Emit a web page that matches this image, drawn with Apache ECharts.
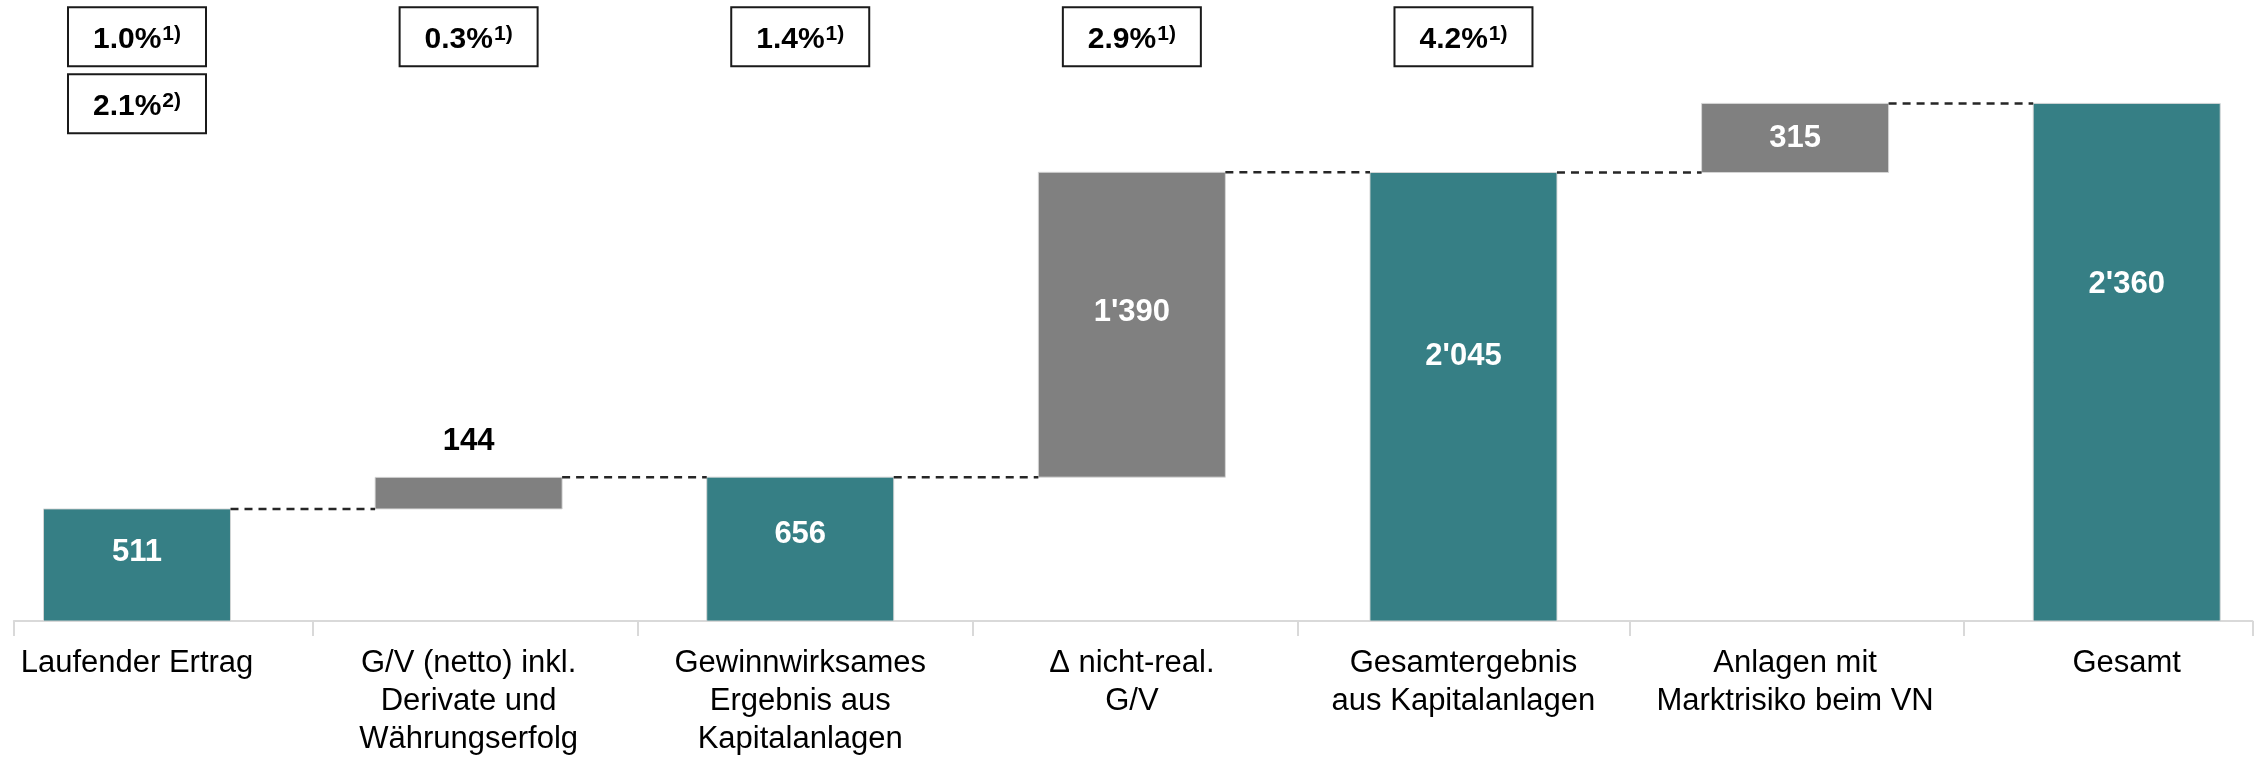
<!DOCTYPE html>
<html>
<head>
<meta charset="utf-8">
<script src="https://cdn.jsdelivr.net/npm/echarts@6/dist/echarts.min.js"></script>
<style>
html,body{margin:0;padding:0;background:#fff;}
#chart{width:2260px;height:758px;}
</style>
</head>
<body>
<div id="chart"></div>
<script>
// ---- data ----
const categories = [
  'Laufender Ertrag',
  'G/V (netto) inkl.\nDerivate und\nWährungserfolg',
  'Gewinnwirksames\nErgebnis aus\nKapitalanlagen',
  'Δ nicht-real.\nG/V',
  'Gesamtergebnis\naus Kapitalanlagen',
  'Anlagen mit\nMarktrisiko beim VN',
  'Gesamt'
];
const values = [511, 144, 656, 1390, 2045, 315, 2360];
const isTotal = [true, false, true, false, true, false, true];
const rates = ['1.0%', '0.3%', '1.4%', '2.9%', '4.2%'];
const rateNotes = ['1)', '1)', '1)', '1)', '1)'];
const rates2 = ['2.1%'];
const rateNotes2 = ['2)'];
// axis category boundaries (tick positions, in category units)
const axisMin = -0.3715, axisMax = 6.379;
const tickValues = [axisMin, 0.53, 1.51, 2.52, 3.5, 4.5, 5.51, axisMax];

// ---- style ----
const TEAL = '#367F85';
const GREY = '#808080';
const FONT = '"Liberation Sans", Arial, Helvetica, sans-serif';
const BAR_W = 187;
const labelAt = [0.39, 0.5, 0.40, 0.46, 0.41, 0.51, 0.35];

// ---- derived waterfall ----
const bases = [], tops = [];
let running = 0;
values.forEach((v, i) => {
  if (isTotal[i]) { bases.push(0); running = v; }
  else { bases.push(running); running += v; }
  tops.push(bases[i] + v);
});
const fmt = v => String(v).replace(/\B(?=(\d{3})+(?!\d))/g, "'");

const barData = values.map((v, i) => [i, bases[i], tops[i], v]);
const connData = [];
for (let i = 0; i < values.length - 1; i++) {
  connData.push([i, isTotal[i] ? values[i] : tops[i]]);
}
const boxData = [];
rates.forEach((r, i) => boxData.push([i, 0, r, rateNotes[i]]));
rates2.forEach((r, i) => boxData.push([i, 1, r, rateNotes2[i]]));

const chart = echarts.init(document.getElementById('chart'), null, { renderer: 'canvas' });
chart.setOption({
  animation: false,
  backgroundColor: '#fff',
  textStyle: { fontFamily: FONT },
  grid: { left: 13.8, right: 7.6, top: 72.7, bottom: 135.3, containLabel: false },
  xAxis: {
    type: 'value',
    min: axisMin, max: axisMax,
    splitLine: { show: false },
    axisLine: { show: true, lineStyle: { color: '#d9d9d9', width: 2 } },
    axisTick: { show: true, length: 15, lineStyle: { color: '#d9d9d9', width: 2 }, customValues: tickValues },
    axisLabel: {
      show: true, margin: 23, color: '#000', fontSize: 31, lineHeight: 38, fontFamily: FONT,
      customValues: categories.map((c, i) => i),
      formatter: v => categories[Math.round(v)] || '',
      align: 'center'
    }
  },
  yAxis: { type: 'value', min: 0, max: 2500, show: false },
  series: [
    {
      type: 'custom', name: 'bars', clip: false,
      renderItem: (params, api) => {
        const i = api.value(0), b = api.value(1), t = api.value(2), v = api.value(3);
        const p0 = api.coord([i, b]);
        const p1 = api.coord([i, t]);
        const outside = v < 200;
        const textStyle = {
          text: fmt(v), fill: outside ? '#000' : '#fff',
          fontSize: 31, fontWeight: 'bold', fontFamily: FONT
        };
        if (!outside) { textStyle.align = 'center'; textStyle.verticalAlign = 'middle'; }
        return {
          type: 'rect',
          shape: { x: p0[0] - BAR_W / 2, y: p1[1], width: BAR_W, height: p0[1] - p1[1] },
          style: { fill: isTotal[i] ? TEAL : GREY, stroke: 'rgba(215,215,215,0.9)', lineWidth: 1 },
          textContent: { style: textStyle },
          textConfig: outside
            ? { position: 'top', distance: 20 }
            : { position: ['50%', (labelAt[i] * 100) + '%'], inside: true }
        };
      },
      data: barData, z: 3
    },
    {
      type: 'custom', name: 'connectors', silent: true, clip: false,
      renderItem: (params, api) => {
        const i = api.value(0), lvl = api.value(1);
        const p1 = api.coord([i, lvl]);
        const p2 = api.coord([i + 1, lvl]);
        return {
          type: 'line',
          shape: { x1: p1[0] + BAR_W / 2, y1: p1[1], x2: p2[0] - BAR_W / 2, y2: p2[1] },
          style: { stroke: '#262626', lineWidth: 2.5, lineDash: [8, 6] }
        };
      },
      data: connData, z: 5
    },
    {
      type: 'custom', name: 'boxes', silent: true, clip: false,
      renderItem: (params, api) => {
        const i = api.value(0), row = api.value(1);
        const item = boxData[params.dataIndex];
        const cx = api.coord([i, 0])[0];
        const w = 138, h = 59;
        const top = 7.3 + row * 67;
        return {
          type: 'group',
          children: [
            { type: 'rect', shape: { x: cx - w / 2, y: top, width: w, height: h },
              style: { fill: '#fff', stroke: '#1a1a1a', lineWidth: 2 } },
            { type: 'text', x: cx, y: top + h / 2 + 1,
              style: {
                text: '{m|' + item[2] + '}{s|' + item[3] + '}',
                align: 'center', verticalAlign: 'middle',
                rich: {
                  m: { fontSize: 30, fontWeight: 'bold', fontFamily: FONT, fill: '#000', lineHeight: 34, verticalAlign: 'bottom' },
                  s: { fontSize: 21, fontWeight: 'bold', fontFamily: FONT, fill: '#000', lineHeight: 34, verticalAlign: 'bottom', padding: [0, 0, 10, 1] }
                }
              } }
          ]
        };
      },
      data: boxData.map(d => [d[0], d[1]]), z: 6
    }
  ]
});
</script>
</body>
</html>
